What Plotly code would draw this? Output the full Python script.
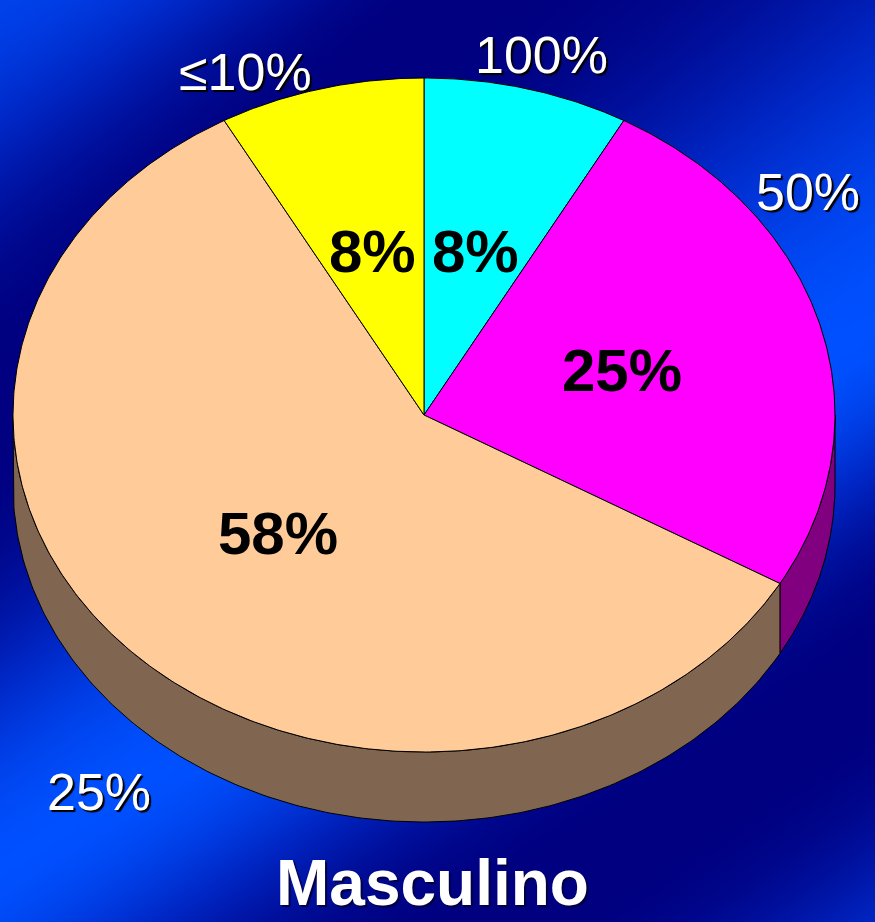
import numpy as np
import plotly.graph_objects as go

# ---------------- data ----------------
categories = ["100%", "50%", "25%", "≤10%"]
values = [8, 25, 58, 8]
pct_labels = ["8%", "25%", "58%", "8%"]
title_text = "Masculino"

# ---------------- styles / layout ----------------
top_colors = ["#00FFFF", "#FF00FF", "#FFCC99", "#FFFF00"]
side_colors = ["#008080", "#800080", "#806650", "#808000"]
outer_label_pos = [(541, 55), (808, 192), (99, 792), (245, 72)]
title_pos = (432, 883)

W, H = 875, 922
CX, CY = 424, 415
RX, RY = 411, 337
DEPTH = 70
FONT = "Liberation Sans, Arial, sans-serif"

# background band lines: (y at left edge, y at right edge), alternately bright/dark
band_left = [-40, 400, 870, 1250, 1700]
band_right = [-520, -378, 330, 680, 1040]
band_peak = [0.85, 1.0, 0.7]


def ellipse_pts(t_deg, f=1.0, dy=0.0):
    t = np.radians(np.asarray(t_deg, dtype=float))
    return CX + RX * f * np.sin(t), CY - RY * f * np.cos(t) + dy


fig = go.Figure()

# background gradient (diagonal bands)
gx = np.linspace(0, W, 60)
gy = np.linspace(0, H, 64)
Z = np.zeros((len(gy), len(gx)))
phases = np.arange(len(band_left)) * 0.5
for j, xv in enumerate(gx):
    fr = xv / W
    ys = [l + (r - l) * fr for l, r in zip(band_left, band_right)]
    p = np.interp(gy, ys, phases)
    amp = np.interp(p, [0, 1, 2], band_peak)
    Z[:, j] = amp * (0.5 + 0.5 * np.cos(2 * np.pi * p)) ** 1.5
fig.add_trace(go.Heatmap(
    x=gx, y=gy, z=Z, zmin=0, zmax=1, zsmooth="best",
    colorscale=[[0, "#000080"], [0.5, "#0026c4"], [1, "#0050ff"]],
    showscale=False, hoverinfo="skip"))

total = float(sum(values))
bounds = np.concatenate([[0], np.cumsum(values) / total * 360.0])

# side walls (front half only)
for i in range(len(values)):
    a0, a1 = bounds[i], bounds[i + 1]
    lo, hi = max(a0, 90.0), min(a1, 270.0)
    if hi <= lo:
        continue
    ts = np.linspace(lo, hi, 200)
    tx, ty = ellipse_pts(ts)
    bx, by = ellipse_pts(ts, dy=DEPTH)
    xs = np.concatenate([tx, bx[::-1], tx[:1]])
    ys = np.concatenate([ty, by[::-1], ty[:1]])
    fig.add_trace(go.Scatter(x=xs, y=ys, mode="lines", fill="toself",
                             fillcolor=side_colors[i],
                             line=dict(color="black", width=1),
                             hoverinfo="skip", showlegend=False))

# top faces
for i in range(len(values)):
    a0, a1 = bounds[i], bounds[i + 1]
    ts = np.linspace(a0, a1, max(int((a1 - a0) * 2), 10))
    ax, ay = ellipse_pts(ts)
    xs = np.concatenate([[CX], ax, [CX]])
    ys = np.concatenate([[CY], ay, [CY]])
    fig.add_trace(go.Scatter(x=xs, y=ys, mode="lines", fill="toself",
                             fillcolor=top_colors[i],
                             line=dict(color="black", width=1),
                             name=categories[i], hoverinfo="name",
                             showlegend=False))

annotations = []
# inner percentage labels at half radius of each slice mid-angle
for i in range(len(values)):
    mid = (bounds[i] + bounds[i + 1]) / 2
    lx, ly = ellipse_pts(mid, f=0.5)
    annotations.append(dict(x=float(lx), y=float(ly), xref="x", yref="y",
                            text=pct_labels[i], showarrow=False,
                            xanchor="center", yanchor="middle",
                            font=dict(family=FONT, size=60, color="black",
                                      weight="bold")))
# outer category labels
for i, (px, py) in enumerate(outer_label_pos):
    annotations.append(dict(x=px, y=py, xref="x", yref="y",
                            text=categories[i], showarrow=False,
                            xanchor="center", yanchor="middle",
                            font=dict(family=FONT, size=52, color="white",
                                      shadow="2px 2px 1px #000000")))
annotations.append(dict(x=title_pos[0], y=title_pos[1], xref="x", yref="y",
                        text=title_text, showarrow=False,
                        xanchor="center", yanchor="middle",
                        font=dict(family=FONT, size=64, color="white",
                                  weight="bold",
                                  shadow="2px 2px 1px #000040")))

fig.update_layout(
    width=W, height=H,
    margin=dict(l=0, r=0, t=0, b=0),
    paper_bgcolor="#000080", plot_bgcolor="#000080",
    showlegend=False,
    xaxis=dict(range=[0, W], visible=False, fixedrange=True),
    yaxis=dict(range=[H, 0], visible=False, fixedrange=True),
    annotations=annotations,
)

fig.write_html("out.html", config={"displayModeBar": False},
               post_script="document.body.style.margin='0';document.body.style.overflow='hidden';")
